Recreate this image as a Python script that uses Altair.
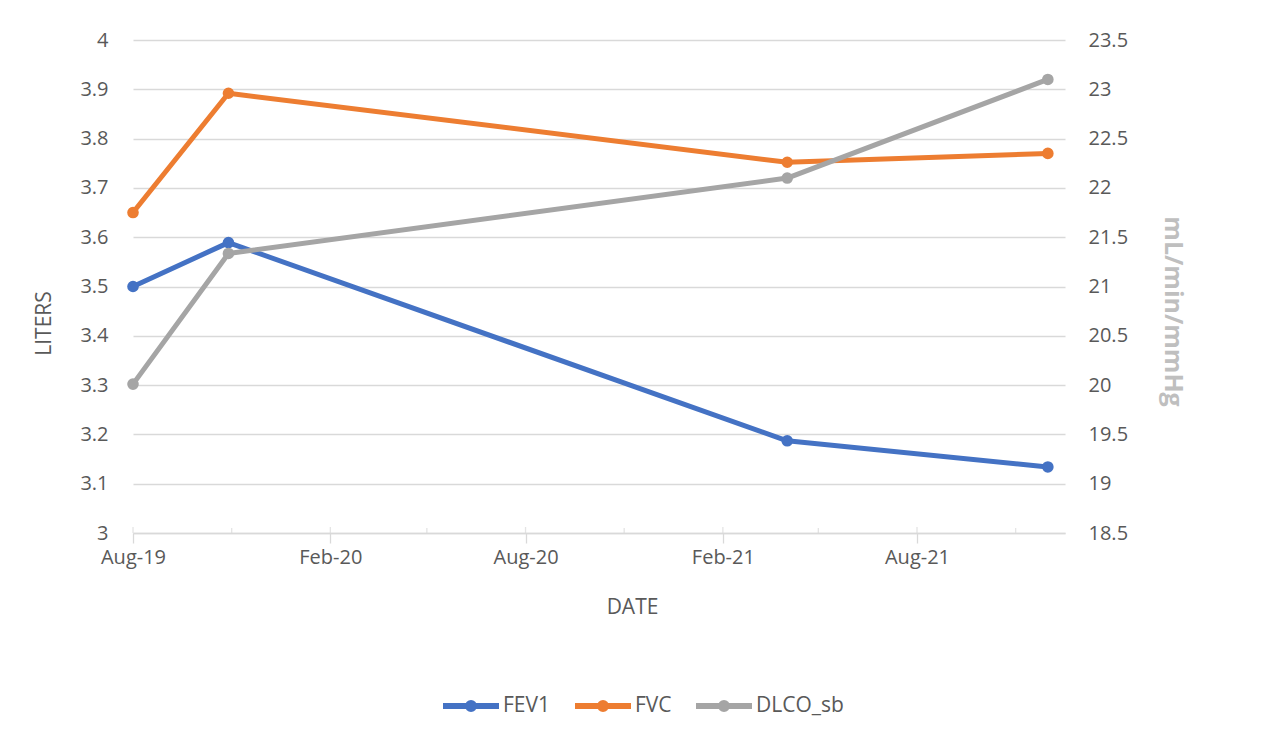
import altair as alt
import pandas as pd

# ---- data ----
dates = ["2019-08-01", "2019-10-29", "2021-04-02", "2021-12-01"]
fev1 = [3.50, 3.589, 3.187, 3.134]
fvc = [3.65, 3.892, 3.752, 3.770]
dlco = [20.01, 21.335, 22.10, 23.10]

series = ["FEV1", "FVC", "DLCO_sb"]
colors = ["#4472C4", "#ED7D31", "#A5A5A5"]

major_ticks = [(2019, 8), (2020, 2), (2020, 8), (2021, 2), (2021, 8)]
minor_ticks = ["2019-11-01", "2020-05-01", "2020-11-01", "2021-05-01", "2021-11-01"]
major_tick_dates = ["2019-08-01", "2020-02-01", "2020-08-01", "2021-02-01", "2021-08-01"]
left_ticks = [3.0, 3.1, 3.2, 3.3, 3.4, 3.5, 3.6, 3.7, 3.8, 3.9, 4.0]
right_ticks = [18.5, 19.0, 19.5, 20.0, 20.5, 21.0, 21.5, 22.0, 22.5, 23.0, 23.5]
left_domain = [3.0, 4.0]
right_domain = [18.5, 23.5]

FONT = "Open Sans"
TXT = "#595959"
GRID = "#D9D9D9"

left_df = pd.DataFrame({
    "date": dates * 2,
    "value": fev1 + fvc,
    "series": ["FEV1"] * len(dates) + ["FVC"] * len(dates),
})
right_df = pd.DataFrame({"date": dates, "value": dlco, "series": ["DLCO_sb"] * len(dates)})
minor_df = pd.DataFrame({"date": minor_ticks})
major_df = pd.DataFrame({"date": major_tick_dates})

x_scale = alt.Scale(
    type="utc",
    domain=[alt.DateTime(year=2019, month=8, date=1, utc=True),
            alt.DateTime(year=2021, month=12, date=17, utc=True)],
)
x_axis = alt.Axis(
    title="DATE",
    values=[alt.DateTime(year=y, month=m, date=1, utc=True) for y, m in major_ticks],
    labelExpr="utcFormat(datum.value, '%b-%y')",
    labelFlush=False,
    grid=False,
    domain=True,
    domainColor=GRID,
    domainWidth=1.3,
    ticks=True,
    tickColor=GRID,
    tickWidth=1.3,
    tickSize=10,
    labelPadding=4,
    labelFontSize=20,
    labelColor=TXT,
    labelFont=FONT,
    titleFont=FONT,
    titleFontSize=21,
    titleFontWeight="normal",
    titleColor=TXT,
    titleX=499,
    titleY=74,
    titleAlign="center",
    titleBaseline="middle",
)

color = alt.Color(
    "series:N",
    scale=alt.Scale(domain=series, range=colors),
    legend=alt.Legend(
        title=None,
        orient="none",
        legendX=307,
        legendY=635,
        direction="horizontal",
        gridAlign="none",
        symbolType="M-1,0H1M0.107,0A0.107,0.107,0,1,1,-0.107,0A0.107,0.107,0,1,1,0.107,0",
        symbolSize=3136,
        symbolStrokeWidth=6,
        labelFontSize=21,
        labelFont=FONT,
        labelColor=TXT,
        labelOffset=1,
        columnPadding=12,
        padding=0,
    ),
)

left_y = alt.Y(
    "value:Q",
    scale=alt.Scale(domain=left_domain, nice=False, zero=False),
    axis=alt.Axis(
        title="LITERS",
        values=left_ticks,
        format=".1~f",
        orient="left",
        domain=False,
        ticks=False,
        grid=True,
        gridColor=GRID,
        gridWidth=1.3,
        labelPadding=25,
        labelFontSize=20,
        labelFont=FONT,
        labelColor=TXT,
        titleFont=FONT,
        titleFontSize=21,
        titleFontWeight="normal",
        titleColor=TXT,
        titleAngle=270,
        titleX=-89,
        titleY=283,
        titleAlign="center",
        titleBaseline="middle",
    ),
)

line_props = dict(strokeWidth=5, strokeCap="round", strokeJoin="round",
                  point=alt.OverlayMarkDef(size=135, filled=True, opacity=1))

left_lines = alt.Chart(left_df).mark_line(**line_props).encode(
    x=alt.X("date:T", scale=x_scale, axis=x_axis),
    y=left_y,
    color=color,
)

minor = alt.Chart(minor_df).mark_tick(orient="vertical", size=5, thickness=1.3,
                                       color=GRID, yOffset=-2.5).encode(
    x=alt.X("date:T", scale=x_scale, axis=x_axis),
    y=alt.datum(3.0),
)
major = alt.Chart(major_df).mark_tick(orient="vertical", size=6, thickness=1.3,
                                       color=GRID, yOffset=-3).encode(
    x=alt.X("date:T", scale=x_scale, axis=x_axis),
    y=alt.datum(3.0),
)

left = alt.layer(minor, major, left_lines)

right = alt.Chart(right_df).mark_line(**line_props).encode(
    x=alt.X("date:T", scale=x_scale, axis=x_axis),
    y=alt.Y(
        "value:Q",
        scale=alt.Scale(domain=right_domain, nice=False, zero=False),
        axis=alt.Axis(
            title="mL/min/mmHg",
            values=right_ticks,
            format=".1~f",
            orient="right",
            domain=False,
            ticks=False,
            grid=False,
            labelPadding=23,
            labelFontSize=20,
            labelFont=FONT,
            labelColor=TXT,
            titleFont=FONT,
            titleFontSize=25,
            titleFontWeight="bold",
            titleColor="#BFBFBF",
            titleAngle=90,
            titleX=107,
            titleY=271,
            titleAlign="center",
            titleBaseline="middle",
        ),
    ),
    color=color,
)

chart = (
    alt.layer(left, right)
    .resolve_scale(y="independent")
    .properties(
        width=932,
        height=493,
        autosize=alt.AutoSizeParams(type="none"),
        padding={"left": 125, "top": 32, "right": 191, "bottom": 194},
        background="white",
    )
    .configure_view(stroke=None)
)

chart.save("out.html", embed_options={"renderer": "svg", "actions": False})
